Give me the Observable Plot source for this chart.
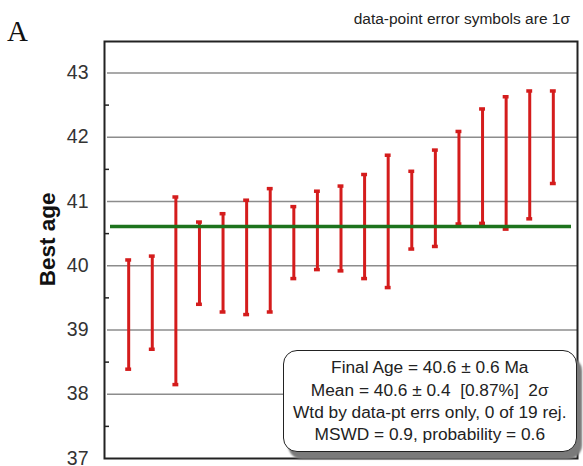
<!DOCTYPE html>
<html><head><meta charset="utf-8">
<script src="https://cdn.jsdelivr.net/npm/d3@7"></script>
<script src="https://cdn.jsdelivr.net/npm/@observablehq/plot@0.6"></script>
<style>
body{margin:0;background:#fff;}
#wrap{position:relative;width:583px;height:466px;font-family:"Liberation Sans",Arial,sans-serif;overflow:hidden;}
#wrap svg{position:absolute;left:0;top:0;}
.ov{position:absolute;}
#panel{left:7px;top:17px;font-family:"Liberation Serif","Times New Roman",serif;font-size:29px;line-height:29px;color:#111;}
#title{right:13px;top:10px;font-size:15.5px;line-height:18px;color:#222;}
#box{left:283px;top:350px;width:291.5px;height:100px;border:1.5px solid #222;border-radius:14px;background:#fff;
 box-shadow:5px 7px 2px #7a7a7a;display:flex;flex-direction:column;justify-content:center;align-items:center;
 font-size:17.3px;line-height:22.4px;color:#222;white-space:pre;}
</style></head><body><div id="wrap"></div>
<script>
const sample = [1,2,3,4,5,6,7,8,9,10,11,12,13,14,15,16,17,18,19];
const lo = [38.39,38.70,38.15,39.40,39.28,39.24,39.28,39.80,39.94,39.92,39.80,39.66,40.26,40.30,40.65,40.66,40.57,40.73,41.28];
const hi = [40.09,40.15,41.07,40.68,40.81,41.02,41.20,40.92,41.16,41.24,41.42,41.72,41.47,41.80,42.09,42.44,42.63,42.72,42.72];
const finalAge = 40.61;
const majorTicks = [37,38,39,40,41,42,43];
const minorTicks = [37.5,38.5,39.5,40.5,41.5,42.5];
const yLabel = "Best age";
const panelLabel = "A";
const titleText = "data-point error symbols are 1σ";
const statsLines = [
  "Final Age = 40.6 ± 0.6 Ma",
  "Mean = 40.6 ± 0.4  [0.87%]  2σ",
  "Wtd by data-pt errs only, 0 of 19 rej.",
  "MSWD = 0.9, probability = 0.6"
];

const data = sample.map((s, k) => ({i: s, lo: lo[k], hi: hi[k]}));
const red = "#d41c1c";

const chart = Plot.plot({
  width: 583, height: 466,
  marginLeft: 104, marginRight: 6, marginTop: 41, marginBottom: 8,
  style: {fontFamily: '"Liberation Sans", Arial, sans-serif', fontSize: "19.5px", color: "#333", background: "transparent"},
  x: {type: "band", domain: sample, paddingInner: 0.75, paddingOuter: 0.9, round: false, axis: null},
  y: {domain: [37, 43.49], axis: null},
  marks: [
    Plot.ruleY(majorTicks.filter(d => d > 37), {stroke: "#8c8c8c", strokeWidth: 1.5, insetLeft: 3}),
    Plot.axisY(minorTicks, {tickSize: -5, tickFormat: () => "", label: null, stroke: "#222", strokeWidth: 1.5}),
    Plot.axisY(majorTicks, {tickSize: 0, tickPadding: 16, fontSize: 19.5, label: null, fill: "#333", tickFormat: d3.format("d")}),
    Plot.ruleX(data, {x: "i", y1: "lo", y2: "hi", stroke: red, strokeWidth: 3}),
    Plot.tickY(data, {x: "i", y: "lo", stroke: red, strokeWidth: 3.5}),
    Plot.tickY(data, {x: "i", y: "hi", stroke: red, strokeWidth: 3.5}),
    Plot.ruleY([finalAge], {stroke: "#1d731d", strokeWidth: 3.5, insetLeft: 6, insetRight: 6}),
    Plot.frame({stroke: "#222", strokeWidth: 2}),
    Plot.text([yLabel], {frameAnchor: "left", textAnchor: "middle", dx: -56.7, dy: -10.7, rotate: -90, fontWeight: "bold", fontSize: 22.5, fill: "#111"})
  ]
});

const wrap = document.getElementById("wrap");
wrap.appendChild(chart);

const p = document.createElement("div"); p.className = "ov"; p.id = "panel"; p.textContent = panelLabel; wrap.appendChild(p);
const t = document.createElement("div"); t.className = "ov"; t.id = "title"; t.textContent = titleText; wrap.appendChild(t);
const b = document.createElement("div"); b.className = "ov"; b.id = "box";
statsLines.forEach(s => { const l = document.createElement("div"); l.textContent = s; b.appendChild(l); });
wrap.appendChild(b);
</script></body></html>
